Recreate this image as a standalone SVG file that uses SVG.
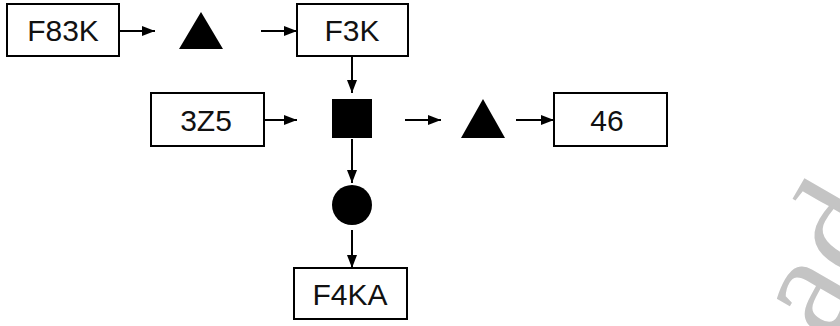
<svg xmlns="http://www.w3.org/2000/svg" width="840" height="326" viewBox="0 0 840 326">
<defs>
<style>
.box{fill:#fff;stroke:#000;stroke-width:2}
.lbl{font-family:"Liberation Sans",Arial,sans-serif;font-size:30px;fill:#111;text-anchor:middle}
.shape{fill:#000}
.con line{stroke:#000;stroke-width:2}
.wm{font-family:"Liberation Serif","Times New Roman",serif;font-size:150px;fill:#c4c4c4}
</style>
<marker id="ah" viewBox="0 0 13 10" refX="13" refY="5" markerWidth="13" markerHeight="10" markerUnits="userSpaceOnUse" orient="auto">
<path d="M0,0 L13,5 L0,10 Z" fill="#000"/>
</marker>
</defs>
<rect width="840" height="326" fill="#fff"/>
<text class="wm" transform="translate(829,344) rotate(-60)">ad</text>
<g id="n-f83k"><rect class="box" x="7" y="4" width="112" height="52"/><text class="lbl" x="63" y="41">F83K</text></g>
<g id="n-tri1"><polygon class="shape" points="201,12 179,49 223,49"/></g>
<g id="n-f3k"><rect class="box" x="297" y="4" width="111" height="52"/><text class="lbl" x="352" y="41">F3K</text></g>
<g id="n-3z5"><rect class="box" x="151" y="93" width="113" height="53"/><text class="lbl" x="206" y="131">3Z5</text></g>
<g id="n-square"><rect class="shape" x="332" y="99" width="40" height="39"/></g>
<g id="n-tri2"><polygon class="shape" points="483,99 461,138 505,138"/></g>
<g id="n-46"><rect class="box" x="554" y="93" width="113" height="53"/><text class="lbl" x="607" y="131">46</text></g>
<g id="n-circle"><circle class="shape" cx="352" cy="205" r="20"/></g>
<g id="n-f4ka"><rect class="box" x="294" y="268" width="113" height="51"/><text class="lbl" x="350" y="305">F4KA</text></g>
<g id="connectors" class="con">
<line x1="119" y1="31" x2="155" y2="31" marker-end="url(#ah)"/>
<line x1="261" y1="31" x2="297" y2="31" marker-end="url(#ah)"/>
<line x1="352" y1="56" x2="352" y2="93" marker-end="url(#ah)"/>
<line x1="264" y1="120" x2="297" y2="120" marker-end="url(#ah)"/>
<line x1="405" y1="120" x2="441" y2="120" marker-end="url(#ah)"/>
<line x1="516" y1="120" x2="554" y2="120" marker-end="url(#ah)"/>
<line x1="352" y1="139" x2="352" y2="183" marker-end="url(#ah)"/>
<line x1="352" y1="230" x2="352" y2="268" marker-end="url(#ah)"/>
</g>
</svg>
